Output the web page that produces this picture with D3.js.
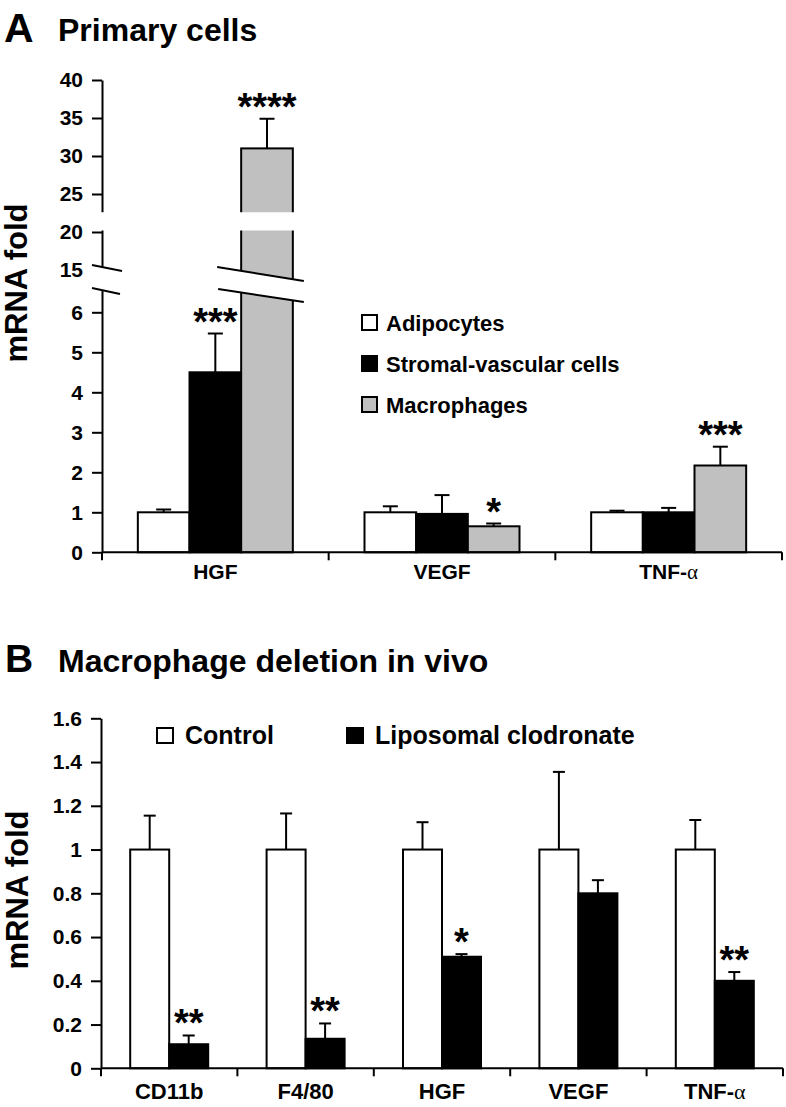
<!DOCTYPE html>
<html>
<head>
<meta charset="utf-8">
<script src="https://cdn.jsdelivr.net/npm/d3@7"></script>
<style>
  body { margin: 0; background: #fff; }
  svg { display: block; }
  text { font-family: "Liberation Sans", Arial, Helvetica, sans-serif; font-weight: bold; fill: #000; }
</style>
</head>
<body>
<script>
// ---------- Panel A data ----------
const categoriesA = ["HGF", "VEGF", "TNF-α"];
const seriesA = ["Adipocytes", "Stromal-vascular cells", "Macrophages"];
const adipocytes = [1.0, 1.0, 1.0];
const adipocytesErr = [0.07, 0.15, 0.04];
const stromal = [4.5, 0.96, 1.0];
const stromalErr = [0.97, 0.47, 0.11];
const macrophages = [31.0, 0.65, 2.17];
const macrophagesErr = [3.9, 0.07, 0.47];
const adipocytesStars = ["", "", ""];
const stromalStars = ["***", "", ""];
const macrophagesStars = ["****", "*", "***"];
const ticksA = [0, 1, 2, 3, 4, 5, 6, 15, 20, 25, 30, 35, 40];

// ---------- Panel B data ----------
const categoriesB = ["CD11b", "F4/80", "HGF", "VEGF", "TNF-α"];
const seriesB = ["Control", "Liposomal clodronate"];
const control = [1.0, 1.0, 1.0, 1.0, 1.0];
const controlErr = [0.155, 0.165, 0.125, 0.355, 0.135];
const clodronate = [0.11, 0.135, 0.51, 0.8, 0.4];
const clodronateErr = [0.04, 0.07, 0.012, 0.06, 0.04];
const controlStars = ["", "", "", "", ""];
const clodronateStars = ["**", "**", "*", "", "**"];
const ticksB = [0, 0.2, 0.4, 0.6, 0.8, 1.0, 1.2, 1.4, 1.6];

const FILLS = ["#ffffff", "#000000", "#c0c0c0"];
const SERIF = "'Liberation Serif', 'Times New Roman', serif";

const svg = d3.select("body").append("svg").attr("width", 786).attr("height", 1107);

function labelAlpha(sel) {
  sel.each(function (d) {
    if (String(d).includes("α")) {
      const t = d3.select(this);
      t.text(null);
      t.append("tspan").text(String(d).replace("α", ""));
      t.append("tspan").attr("font-family", SERIF).attr("font-weight", "normal").text("α");
    }
  });
}

function styleAxis(g) {
  g.selectAll("path.domain").attr("stroke", "#000").attr("stroke-width", 2);
  g.selectAll(".tick line").attr("stroke", "#000").attr("stroke-width", 2);
  g.selectAll(".tick text").attr("fill", "#000");
}

function drawXAxis(g, x, y0, fontSize, pad) {
  const [r0, r1] = x.range();
  g.append("line").attr("x1", r0).attr("x2", r1).attr("y1", y0).attr("y2", y0)
    .attr("stroke", "#000").attr("stroke-width", 2);
  const bounds = d3.range(x.domain().length + 1).map(i => r0 + i * x.step());
  g.selectAll(".xb").data(bounds).join("line")
    .attr("x1", d => d).attr("x2", d => d).attr("y1", y0).attr("y2", y0 + 8)
    .attr("stroke", "#000").attr("stroke-width", 2);
  const ax = g.append("g").attr("transform", `translate(0,${y0})`)
    .call(d3.axisBottom(x).tickSize(0).tickPadding(pad));
  ax.select("path.domain").remove();
  ax.selectAll("text").attr("font-size", fontSize).attr("font-family", null).call(labelAlpha);
}

function drawBars(g, x, x1, y, seriesVals, seriesErrs, seriesStars, capW, starSize) {
  seriesVals.forEach((vals, si) => {
    const errs = seriesErrs[si];
    const stars = seriesStars[si];
    const cats = x.domain();
    const grp = g.append("g");
    cats.forEach((c, ci) => {
      const bx = x(c) + x1(si);
      const bw = x1.bandwidth();
      const cx = bx + bw / 2;
      const top = y(vals[ci] + errs[ci]);
      grp.append("line").attr("x1", cx).attr("x2", cx).attr("y1", y(vals[ci])).attr("y2", top)
        .attr("stroke", "#000").attr("stroke-width", 2);
      grp.append("line").attr("x1", cx - capW / 2).attr("x2", cx + capW / 2).attr("y1", top).attr("y2", top)
        .attr("stroke", "#000").attr("stroke-width", 2);
      grp.append("rect").attr("x", bx).attr("y", y(vals[ci]))
        .attr("width", bw).attr("height", y(0) - y(vals[ci]))
        .attr("fill", FILLS[si]).attr("stroke", "#000").attr("stroke-width", 2);
      if (stars[ci]) {
        grp.append("text").attr("x", cx).attr("y", top + 1).attr("text-anchor", "middle")
          .attr("font-size", starSize).text(stars[ci]);
      }
    });
  });
}

// ================= Panel A =================
const gA = svg.append("g");
gA.append("text").attr("x", 4).attr("y", 42).attr("font-size", 41).text("A");
gA.append("text").attr("x", 58).attr("y", 41).attr("font-size", 32).text("Primary cells");

const yA = d3.scaleLinear().domain([0, 6, 15, 40]).range([552.3, 312.3, 270, 80]);
const xA = d3.scaleBand().domain(categoriesA).range([102, 782]).paddingInner(0).paddingOuter(0);
const groupWA = 155;
const x1A = d3.scaleBand().domain(d3.range(seriesA.length))
  .range([(xA.bandwidth() - groupWA) / 2, (xA.bandwidth() + groupWA) / 2]);

drawBars(gA, xA, x1A, yA, [adipocytes, stromal, macrophages],
  [adipocytesErr, stromalErr, macrophagesErr],
  [adipocytesStars, stromalStars, macrophagesStars], 15, 38);

const axA = gA.append("g").attr("transform", "translate(102,0)")
  .call(d3.axisLeft(yA).tickValues(ticksA).tickFormat(d => String(d)).tickSize(10).tickSizeOuter(0).tickPadding(9));
axA.selectAll("text").attr("font-size", 21).attr("font-family", null);
styleAxis(axA);
drawXAxis(gA, xA, yA(0), 21, 12);

// axis break: horizontal gap between 25 and 20
const gapTop = yA(22.6), gapBot = yA(20) - 1.5;
const hgfMacroX = xA("HGF") + x1A(2), hgfMacroW = x1A.bandwidth();
gA.append("rect").attr("x", 95).attr("y", gapTop).attr("width", 14).attr("height", gapBot - gapTop).attr("fill", "#fff");
gA.append("rect").attr("x", hgfMacroX - 2).attr("y", gapTop).attr("width", hgfMacroW + 4).attr("height", gapBot - gapTop).attr("fill", "#fff");

// slanted break on axis
const y15 = yA(15);
const axL1 = [[92, y15 - 5], [122, y15 + 1]];
const axL2 = [[92, y15 + 18], [120, y15 + 24]];
gA.append("polygon").attr("points", [axL1[0], axL1[1], axL2[1], axL2[0]].map(p => p.join(",")).join(" "))
  .attr("fill", "#fff");
[axL1, axL2].forEach(l => gA.append("line").attr("x1", l[0][0]).attr("y1", l[0][1]).attr("x2", l[1][0]).attr("y2", l[1][1])
  .attr("stroke", "#000").attr("stroke-width", 2));

// slanted break on HGF macrophage bar
const bL1 = [[hgfMacroX - 24, y15 - 3], [hgfMacroX + hgfMacroW + 11, y15 + 11]];
const bL2 = [[hgfMacroX - 23, y15 + 19], [hgfMacroX + hgfMacroW + 11, y15 + 32]];
gA.append("polygon").attr("points", [bL1[0], bL1[1], bL2[1], bL2[0]].map(p => p.join(",")).join(" "))
  .attr("fill", "#fff");
[bL1, bL2].forEach(l => gA.append("line").attr("x1", l[0][0]).attr("y1", l[0][1]).attr("x2", l[1][0]).attr("y2", l[1][1])
  .attr("stroke", "#000").attr("stroke-width", 2));

gA.append("text").attr("transform", "translate(27,283) rotate(-90)").attr("text-anchor", "middle")
  .attr("font-size", 31).text("mRNA fold");

// legend A
const legA = gA.append("g").attr("transform", "translate(362,315)");
seriesA.forEach((s, i) => {
  legA.append("rect").attr("x", 0).attr("y", i * 41).attr("width", 15).attr("height", 15)
    .attr("fill", FILLS[i]).attr("stroke", "#000").attr("stroke-width", 2);
  legA.append("text").attr("x", 24).attr("y", i * 41 + 15.5).attr("font-size", 22).text(s);
});

// ================= Panel B =================
const gB = svg.append("g");
gB.append("text").attr("x", 5).attr("y", 672).attr("font-size", 39).text("B");
gB.append("text").attr("x", 58).attr("y", 672).attr("font-size", 32).text("Macrophage deletion in vivo");

const yB = d3.scaleLinear().domain([0, 1.6]).range([1068.3, 718.3]);
const xB = d3.scaleBand().domain(categoriesB).range([101, 783]).paddingInner(0).paddingOuter(0);
const groupWB = 78;
const x1B = d3.scaleBand().domain(d3.range(seriesB.length))
  .range([(xB.bandwidth() - groupWB) / 2, (xB.bandwidth() + groupWB) / 2]);

drawBars(gB, xB, x1B, yB, [control, clodronate], [controlErr, clodronateErr],
  [controlStars, clodronateStars], 12, 38);

const axB = gB.append("g").attr("transform", "translate(101,0)")
  .call(d3.axisLeft(yB).tickValues(ticksB).tickFormat(d => String(+d.toFixed(1))).tickSize(10).tickSizeOuter(0).tickPadding(9));
axB.selectAll("text").attr("font-size", 21).attr("font-family", null);
styleAxis(axB);
drawXAxis(gB, xB, yB(0), 22, 15);

gB.append("text").attr("transform", "translate(28,890) rotate(-90)").attr("text-anchor", "middle")
  .attr("font-size", 31).text("mRNA fold");

// legend B
const legBx = [157, 347];
seriesB.forEach((s, i) => {
  gB.append("rect").attr("x", legBx[i]).attr("y", 728).attr("width", 16).attr("height", 15)
    .attr("fill", FILLS[i]).attr("stroke", "#000").attr("stroke-width", 2);
  gB.append("text").attr("x", legBx[i] + 28).attr("y", 744).attr("font-size", 25).text(s);
});
</script>
</body>
</html>
